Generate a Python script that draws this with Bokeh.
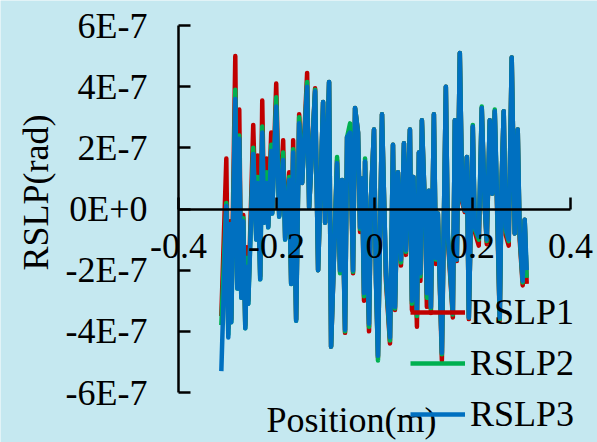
import math
import numpy as np
from bokeh.plotting import figure
from bokeh.models import (Range1d, FixedTicker, Legend, LegendItem, Label)
from bokeh.embed import file_html
from bokeh.resources import INLINE

# ---- data (y values in units of 1E-7 rad) ----
position = [
    -0.3126, -0.3024, -0.2984, -0.2943, -0.2923, -0.2841, -0.2800, -0.2760, -0.2719, -0.2678,
    -0.2637, -0.2607, -0.2576, -0.2475, -0.2413, -0.2383, -0.2332, -0.2291, -0.2251, -0.2200,
    -0.2169, -0.2108, -0.2088, -0.2006, -0.1945, -0.1864, -0.1823, -0.1741, -0.1701, -0.1660,
    -0.1599, -0.1538, -0.1477, -0.1375, -0.1334, -0.1212, -0.1151, -0.1049, -0.1008, -0.0927,
    -0.0886, -0.0764, -0.0703, -0.0662, -0.0601, -0.0560, -0.0499, -0.0438, -0.0397, -0.0336,
    -0.0295, -0.0255, -0.0214, -0.0193, -0.0153, -0.0112, -0.0071, -0.0010, 0.0031, 0.0071,
    0.0153, 0.0193, 0.0234, 0.0316, 0.0377, 0.0418, 0.0479, 0.0540, 0.0601, 0.0642,
    0.0723, 0.0764, 0.0794, 0.0866, 0.0906, 0.0937, 0.0967, 0.1029, 0.1069, 0.1110,
    0.1151, 0.1212, 0.1253, 0.1293, 0.1375, 0.1456, 0.1497, 0.1599, 0.1640, 0.1680,
    0.1741, 0.1792, 0.1843, 0.1884, 0.1925, 0.2006, 0.2047, 0.2128, 0.2189, 0.2251,
    0.2291, 0.2352, 0.2403, 0.2454, 0.2495, 0.2556, 0.2597, 0.2637, 0.2678, 0.2739,
    0.2800, 0.2862, 0.2923, 0.2963, 0.3024, 0.3065, 0.3106,
]

rslp3 = [
    -5.3, 0.1, -4.2, -0.5, -3.7, 3.6, -2.6, 2.3, -2.9, -0.4,
    -3.9, -1.9, -3.1, 1.8, -1.0, 0.85, -2.3, 2.5, -0.45, 0.85,
    -0.6, 1.9, -0.15, 3.35, -0.25, 1.6, -1.0, 0.95, -2.45, 1.85,
    -3.65, 2.8, 0.85, 4.0, 0.05, 3.85, -2.0, 3.5, -0.45, 4.15,
    -4.5, 1.5, -2.0, 0.95, -3.95, 2.35, 2.5, -2.0, 3.3, 2.5,
    -0.6, 1.0, -2.75, 1.55, -1.2, -3.75, 0.4, 2.6, -2.35, -4.8,
    3.1, 0.5, -2.1, -4.2, 2.1, -3.2, 1.2, -1.65, 2.15, -1.35,
    2.6, -3.0, 1.05, -3.4, 1.85, -2.1, 2.9, 0.05, -2.75, 0.6,
    -3.2, 3.1, -1.6, -0.15, -4.7, 4.0, -0.8, -3.4, 2.9, -1.65,
    5.1, 0.3, -0.05, 1.7, -3.55, 2.7, -0.6, -0.9, 3.3, 0.05,
    -1.0, 2.9, 0.5, 3.2, 0.7, -3.55, 1.05, 3.2, -0.6, -1.0,
    4.95, -0.8, 2.6, -0.8, -2.35, -0.35, -2.0,
]

rslp1 = [
    -3.5, 1.65, -3.9, -0.4, -3.6, 5.0, -2.5, 3.25, -2.8, -0.2,
    -3.8, -1.25, -3.0, 2.75, -0.9, 1.75, -2.2, 3.55, -0.4, 1.65,
    -0.55, 2.5, -0.1, 4.1, -0.2, 2.25, -0.95, 1.2, -2.4, 2.25,
    -3.6, 3.1, 0.85, 4.45, 0.05, 3.95, -2.0, 3.5, -0.45, 4.15,
    -4.5, 1.6, -2.05, 0.95, -4.05, 2.35, 2.5, -2.1, 3.3, 2.5,
    -0.75, 1.0, -3.0, 1.55, -1.3, -4.0, 0.4, 2.6, -2.4, -4.85,
    3.1, 0.5, -2.35, -4.4, 2.1, -3.3, 1.2, -1.85, 2.15, -1.5,
    2.6, -3.3, 1.05, -3.85, 1.85, -2.35, 2.9, 0.05, -3.2, 0.6,
    -3.4, 3.1, -1.8, -0.15, -4.95, 4.0, -1.0, -3.55, 2.9, -1.7,
    5.1, 0.2, -0.1, 1.7, -3.6, 2.7, -0.75, -1.2, 3.3, 0.05,
    -1.15, 2.9, 0.5, 3.2, 0.45, -3.65, 1.05, 3.2, -0.85, -1.2,
    4.95, -0.8, 2.6, -1.0, -2.5, -0.35, -2.45,
]

rslp2 = [
    -3.8, 0.2, -4.1, -0.5, -3.7, 3.9, -2.6, 2.4, -2.9, -0.3,
    -3.9, -1.6, -3.1, 2.0, -1.0, 1.05, -2.3, 2.7, -0.45, 1.2,
    -0.6, 2.1, -0.15, 3.65, -0.25, 1.85, -1.0, 1.05, -2.45, 1.95,
    -3.65, 3.0, 0.85, 4.15, 0.05, 3.9, -2.0, 3.5, -0.45, 4.15,
    -4.5, 1.7, -2.1, 0.95, -4.0, 2.35, 2.8, -2.05, 3.3, 2.5,
    -0.65, 1.0, -2.85, 1.65, -1.2, -3.85, 0.4, 2.6, -2.35, -4.95,
    3.1, 0.5, -2.2, -4.3, 2.1, -3.25, 1.2, -1.75, 2.15, -1.4,
    2.6, -3.1, 1.05, -3.5, 1.85, -2.2, 2.9, 0.05, -2.9, 0.6,
    -3.25, 3.1, -1.65, -0.15, -4.75, 4.0, -0.85, -3.45, 2.9, -1.65,
    5.1, 0.3, -0.05, 1.7, -3.55, 2.75, -0.65, -1.0, 3.35, 0.05,
    -1.05, 2.9, 0.5, 3.25, 0.6, -3.6, 1.05, 3.2, -0.7, -1.05,
    4.95, -0.8, 2.6, -0.85, -2.4, -0.35, -2.25,
]

series_names = ["RSLP1", "RSLP2", "RSLP3"]
series_colors = ["#C00000", "#00B050", "#0070C0"]

x_ticks = [-0.4, -0.2, 0, 0.2, 0.4]
x_tick_labels = ["-0.4", "-0.2", "0", "0.2", "0.4"]
y_ticks = [-6, -4, -2, 0, 2, 4, 6]
y_tick_labels = ["-6E-7", "-4E-7", "-2E-7", "0E+0", "2E-7", "4E-7", "6E-7"]

x_title = "Position(m)"
y_title = "RSLP(rad)"

BG = "#C5E8F0"
FONT = "Liberation Serif"
FS = "36px"

W, H = 597, 442
# reference plot box: x -0.4..0.4 -> px 178..570 ; y 6..-6 -> py 25..392
PX_PER_X = 392 / 0.8
PX_PER_Y = 367 / 12.0
x0 = -0.4 - 178 / PX_PER_X
x1 = -0.4 + (W - 178) / PX_PER_X
y1 = 6 + 25 / PX_PER_Y
y0 = 6 - (H - 25) / PX_PER_Y

p = figure(width=W, height=H, output_backend="svg", toolbar_location=None,
           x_range=Range1d(x0, x1), y_range=Range1d(y0, y1),
           min_border_left=0, min_border_right=0,
           min_border_top=0, min_border_bottom=0)
p.background_fill_color = BG
p.border_fill_color = BG
p.outline_line_color = None
p.xgrid.grid_line_color = None
p.ygrid.grid_line_color = None

renderers = []
for name, ys, col in zip(series_names, [rslp1, rslp2, rslp3], series_colors):
    r = p.line(position, ys, line_color=col, line_width=4.5, line_join="round")
    renderers.append(r)

# axes crossing at x=-0.4 and y=0, limited to the plot box
xa = p.xaxis[0]
xa.fixed_location = 0
xa.bounds = (-0.4, 0.4)
xa.ticker = FixedTicker(ticks=x_ticks)
xa.major_label_overrides = {t: l for t, l in zip(x_ticks, x_tick_labels)}
ya = p.yaxis[0]
ya.fixed_location = -0.4
ya.bounds = (-6, 6)
ya.ticker = FixedTicker(ticks=y_ticks)
ya.major_label_overrides = {t: l for t, l in zip(y_ticks, y_tick_labels)}
for ax in (xa, ya):
    ax.axis_line_color = "black"
    ax.axis_line_width = 2.5
    ax.major_tick_line_color = "black"
    ax.major_tick_line_width = 2.5
    ax.major_tick_in = 12
    ax.major_tick_out = 0
    ax.minor_tick_line_color = None
    ax.major_label_text_font = FONT
    ax.major_label_text_font_size = FS
    ax.major_label_text_color = "black"
xa.major_label_standoff = 25
ya.major_label_standoff = 31

# axis titles
p.add_layout(Label(x=-0.6898, y=0.54, text=y_title, angle=math.pi / 2,
                   text_align="center", text_baseline="middle",
                   text_font=FONT, text_font_size=FS, text_color="black"))
p.add_layout(Label(x=-0.0469, y=-6.91, text=x_title,
                   text_align="center", text_baseline="alphabetic",
                   text_font=FONT, text_font_size=FS, text_color="black"))

legend = Legend(items=[LegendItem(label=n, renderers=[r]) for n, r in zip(series_names, renderers)],
                location=(410, 7), orientation="vertical",
                background_fill_alpha=0, border_line_color=None,
                padding=0, margin=0, spacing=9,
                glyph_width=55, glyph_height=40, label_height=40, label_standoff=5,
                label_text_font=FONT, label_text_font_size=FS, label_text_color="black")
p.add_layout(legend)

open("out.html", "w").write(file_html(p, INLINE))
